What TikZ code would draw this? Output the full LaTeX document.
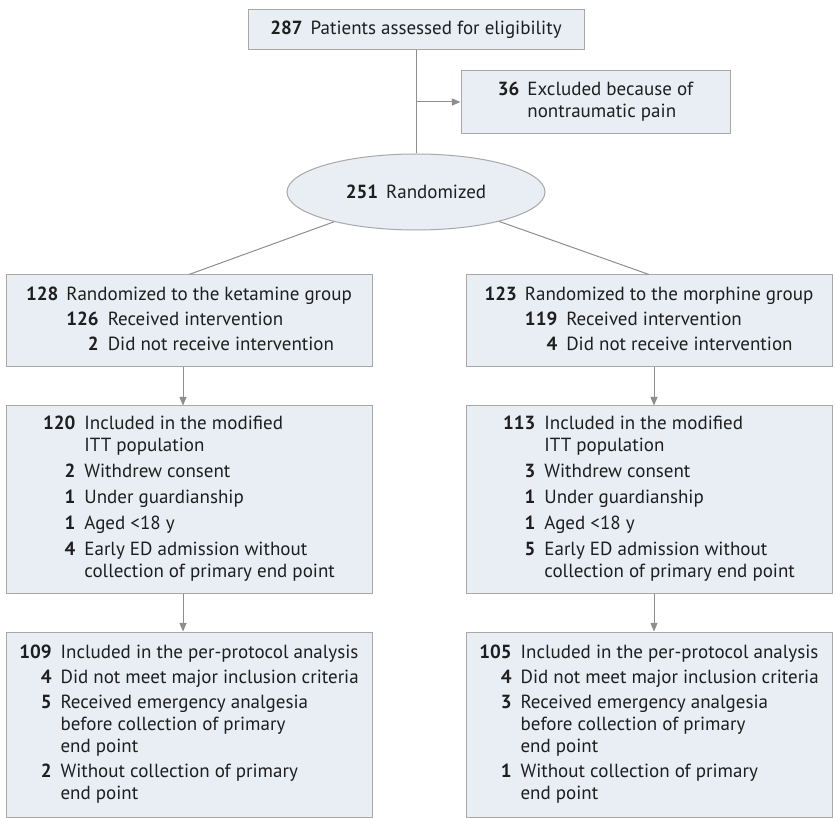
\documentclass[tikz,border=0pt]{standalone}
\usepackage{fontspec}
\setmainfont{PT Sans}
\usepackage{array}
\usetikzlibrary{arrows,shapes.geometric}

\definecolor{boxfill}{HTML}{E8EEF3}
\definecolor{boxline}{HTML}{A8A8A8}
\definecolor{conn}{HTML}{8E8E8E}
\definecolor{txt}{HTML}{1E1E1E}

\tikzset{
    box/.style={draw=boxline, fill=boxfill, line width=1pt, inner sep=0pt, text=txt,
        font=\fontsize{19}{22}\selectfont},
    randbox/.style={box, ellipse, minimum width=258pt, minimum height=76pt},
    armbox/.style={box, minimum width=366pt},
    link/.style={draw=conn, line width=1pt},
    arr/.style={link, ->, >=triangle 45}
}

\begin{document}
\begin{tikzpicture}[x=1pt,y=-1pt]
            \useasboundingbox (0,0) rectangle (836,818);
            \fill[white] (0,0) rectangle (836,818);

            % enrolment
            \node[box, minimum width=336pt, minimum height=40pt] (assess) at (416,30)
                {\textbf{287}\hspace{8pt}Patients assessed for eligibility};
            \node[box, minimum width=269pt, minimum height=63pt] (excl) at (595.5,102.5)
                {\begin{tabular}{@{}r@{\hspace{8pt}}l@{}}
                 \textbf{36} & Excluded because of\\
                             & nontraumatic pain
                 \end{tabular}};
            \node[randbox] (rand) at (416,192) {\textbf{251}\hspace{8pt}Randomized};

            \coordinate (colL) at (183,0);
            \coordinate (colR) at (654,0);
            \coordinate (split) at (416,102);

            % ketamine arm
            \node[armbox, minimum height=92pt] (ket) at (189,321)
                {\begin{tabular}{@{}r@{\hspace{8pt}}r@{\hspace{9pt}}l@{}}
                 \textbf{128} & \multicolumn{2}{@{}l@{}}{Randomized to the ketamine group}\\[3pt]
                              & \textbf{126} & Received intervention\\[3pt]
                              & \textbf{2}   & Did not receive intervention
                 \end{tabular}};
            \node[armbox, minimum height=187pt] (ketitt) at (189,499.5)
                {\begin{tabular}{@{}r@{\hspace{9pt}}l@{}}
                 \textbf{120} & Included in the modified\\
                              & ITT population\\[4pt]
                 \textbf{2}   & Withdrew consent\\[4pt]
                 \textbf{1}   & Under guardianship\\[4pt]
                 \textbf{1}   & Aged <18 y\\[4pt]
                 \textbf{4}   & Early ED admission without\\
                              & collection of primary end point
                 \end{tabular}};
            \node[armbox, minimum height=185pt] (ketpp) at (189,724.5)
                {\begin{tabular}{@{}r@{\hspace{9pt}}l@{}}
                 \textbf{109} & Included in the per-protocol analysis\\[3pt]
                 \textbf{4}   & Did not meet major inclusion criteria\\[3pt]
                 \textbf{5}   & Received emergency analgesia\\
                              & before collection of primary\\
                              & end point\\[3pt]
                 \textbf{2}   & Without collection of primary\\
                              & end point
                 \end{tabular}};

            % morphine arm
            \node[armbox, minimum height=92pt] (mor) at (649,321)
                {\begin{tabular}{@{}r@{\hspace{8pt}}r@{\hspace{9pt}}l@{}}
                 \textbf{123} & \multicolumn{2}{@{}l@{}}{Randomized to the morphine group}\\[3pt]
                              & \textbf{119} & Received intervention\\[3pt]
                              & \textbf{4}   & Did not receive intervention
                 \end{tabular}};
            \node[armbox, minimum height=187pt] (moritt) at (649,499.5)
                {\begin{tabular}{@{}r@{\hspace{9pt}}l@{}}
                 \textbf{113} & Included in the modified\\
                              & ITT population\\[4pt]
                 \textbf{3}   & Withdrew consent\\[4pt]
                 \textbf{1}   & Under guardianship\\[4pt]
                 \textbf{1}   & Aged <18 y\\[4pt]
                 \textbf{5}   & Early ED admission without\\
                              & collection of primary end point
                 \end{tabular}};
            \node[armbox, minimum height=185pt] (morpp) at (649,724.5)
                {\begin{tabular}{@{}r@{\hspace{9pt}}l@{}}
                 \textbf{105} & Included in the per-protocol analysis\\[3pt]
                 \textbf{4}   & Did not meet major inclusion criteria\\[3pt]
                 \textbf{3}   & Received emergency analgesia\\
                              & before collection of primary\\
                              & end point\\[3pt]
                 \textbf{1}   & Without collection of primary\\
                              & end point
                 \end{tabular}};

            % connectors
            \draw[link] (assess.south) -- (rand.north);
            \draw[arr] (split) -- (excl.west |- split);
            \draw[link] (rand) -- (ket.north);
            \draw[link] (rand) -- (mor.north);
            \draw[arr] (ket.south -| colL) -- (ketitt.north -| colL);
            \draw[arr] (ketitt.south -| colL) -- (ketpp.north -| colL);
            \draw[arr] (mor.south -| colR) -- (moritt.north -| colR);
            \draw[arr] (moritt.south -| colR) -- (morpp.north -| colR);
        \end{tikzpicture}
\end{document}
